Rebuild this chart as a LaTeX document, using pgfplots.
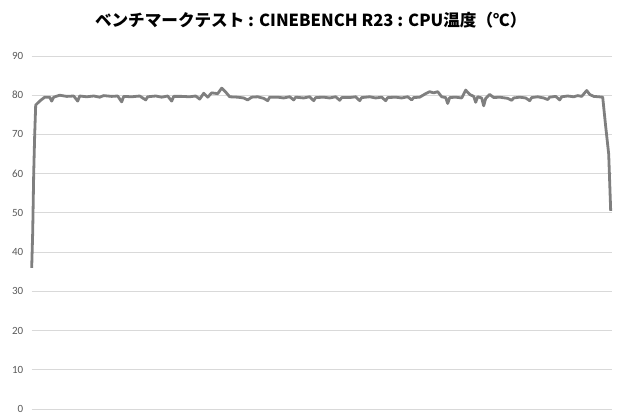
\documentclass[border=0pt]{standalone}
\usepackage{pgfplots}
\pgfplotsset{compat=1.18}
\usepackage{fontspec}
\setmainfont{Carlito}
\newfontfamily\cjk{Noto Sans CJK JP}
\definecolor{linegray}{HTML}{7F7F7F}
\definecolor{gridgray}{HTML}{D9D9D9}
\definecolor{ticktext}{HTML}{595959}

\pgfplotstableread{
x y
0 36
1 45
2 60
3 70
4 77.5
8 78.5
13 79.5
18 79.5
20 78.5
22 79.5
28 80
35 79.7
42 79.8
46 78.5
48 79.8
55 79.6
62 79.8
68 79.5
72 79.9
80 79.7
86 79.8
90 78.3
92 79.7
100 79.6
108 79.8
114 78.8
116 79.6
124 79.8
130 79.5
136 79.8
140 78.5
142 79.7
150 79.7
158 79.6
164 79.8
168 79.0
172 80.5
176 79.5
180 80.6
186 80.4
190 81.8
194 80.8
198 79.6
206 79.5
212 79.3
216 78.8
220 79.5
226 79.6
232 79.2
236 78.6
238 79.5
246 79.5
252 79.3
258 79.6
262 78.8
264 79.5
272 79.3
278 79.6
282 78.6
284 79.4
292 79.5
298 79.3
304 79.6
308 78.7
310 79.4
318 79.4
324 79.6
328 78.6
330 79.4
338 79.6
344 79.3
350 79.5
354 78.6
356 79.4
364 79.5
370 79.3
376 79.6
380 78.8
382 79.4
388 79.5
394 80.4
398 80.9
402 80.6
406 80.9
410 79.6
414 79.4
416 77.9
418 79.4
424 79.5
430 79.3
434 81.3
438 80.2
442 79.7
444 78.2
446 79.6
450 79.3
452 77.3
454 79.2
458 80.2
462 79.4
468 79.5
476 79.2
480 78.7
482 79.3
488 79.5
494 79.3
498 78.6
500 79.4
506 79.6
512 79.3
516 78.9
518 79.5
524 79.7
528 78.8
530 79.6
536 79.8
542 79.6
546 79.9
550 79.7
555 81.2
558 80.2
562 79.7
567 79.6
571 79.5
574 72
577 65
579 50.5
}\cputemp

\begin{document}
\begin{tikzpicture}
\useasboundingbox (-31.7bp,-11bp) rectangle (588.3bp,409bp);
\begin{axis}[
    at={(0,0)}, anchor=south west,
    scale only axis,
    width=580bp, height=353bp,
    xmin=0, xmax=580,
    ymin=0, ymax=90,
    ytick={0,10,...,90},
    xtick=\empty,
    ymajorgrids=true,
    grid style={gridgray, line width=0.9bp},
    axis line style={draw=none},
    major tick style={draw=none},
    yticklabel style={font=\fontsize{11bp}{12bp}\selectfont, text=ticktext, xshift=-5bp},
    /pgf/number format/assume math mode=true,
    clip=false,
]
\addplot[linegray, line width=2.8bp, line join=round] table[x=x, y=y] {\cputemp};
\end{axis}
\node[font=\cjk\bfseries\fontsize{16.6bp}{18bp}\selectfont] at (279bp,388.5bp)
  {ベンチマークテスト : CINEBENCH R23 : CPU温度（℃）};
\end{tikzpicture}
\end{document}
